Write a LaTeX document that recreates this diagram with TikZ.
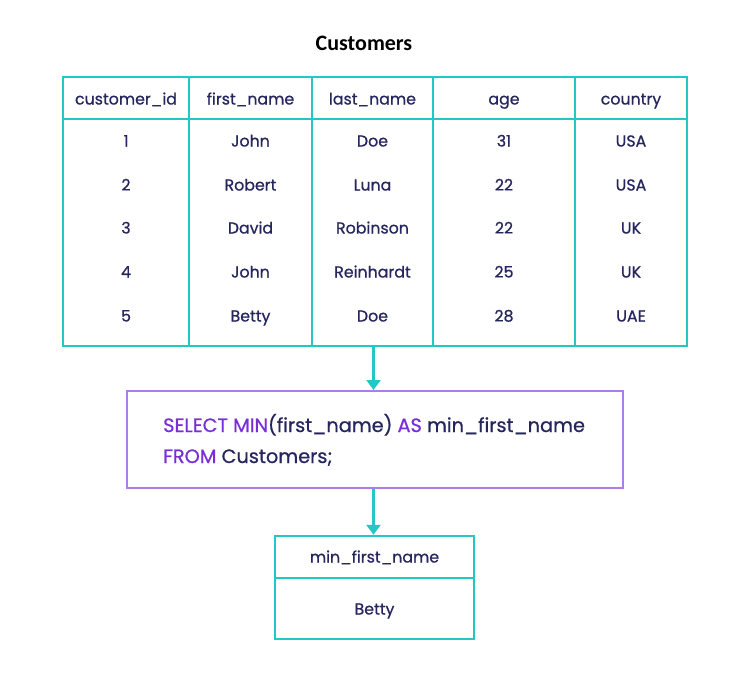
\documentclass[tikz,border=0pt]{standalone}
\usepackage{fontspec}
\setmainfont{Poppins}
\newfontfamily\med{Poppins}[FakeBold=0.7]
\newfontfamily\titlefont{Carlito}
\usetikzlibrary{arrows.meta}
\definecolor{teal1}{HTML}{22C7C7}
\definecolor{purp}{HTML}{B07CE6}
\definecolor{kw}{HTML}{7A2FD6}
\definecolor{ink}{HTML}{25265E}
\tikzset{
  cell/.style={font=\med\fontsize{15.8}{18}\selectfont, text=ink, anchor=center, inner sep=0pt, text height=11pt, text depth=0pt},
  frame/.style={draw=teal1, line width=2.4pt, inner sep=0pt},
  grid/.style={draw=teal1, line width=2.4pt},
  flow/.style={draw=teal1, line width=2.6pt, -{Triangle[width=14pt,length=10pt]}},
  sqltext/.style={anchor=base west, inner sep=0pt, font=\med\fontsize{19.3}{24}\selectfont, text=ink},
}
\begin{document}
\begin{tikzpicture}[x=1pt,y=-1pt]
\useasboundingbox (0,0) rectangle (750,677);
\fill[white] (0,0) rectangle (750,677);
% title
\node[font=\titlefont\bfseries\fontsize{22}{26}\selectfont, text=black] (title) at (364,43) {Customers};
% table
\node[frame, minimum width=624pt, minimum height=269pt] (tbl) at (375,211.5) {};
\draw[grid] (63,119) -- (687,119);
\foreach \x in {189,312,433,575} \draw[grid] (\x,77) -- (\x,346);
% header
\node[cell] (h1) at (126,99) {customer\_id};
\node[cell] (h2) at (250.5,99) {first\_name};
\node[cell] (h3) at (372.5,99) {last\_name};
\node[cell] (h4) at (504,99) {age};
\node[cell] (h5) at (631,99) {country};
% rows
\foreach \y/\a/\b/\c/\d/\e [count=\i] in {141/1/John/Doe/31/USA,185/2/Robert/Luna/22/USA,228/3/David/Robinson/22/UK,272/4/John/Reinhardt/25/UK,316/5/Betty/Doe/28/UAE}{
  \node[cell] (r\i a) at (126,\y) {\a};
  \node[cell] (r\i b) at (250.5,\y) {\b};
  \node[cell] (r\i c) at (372.5,\y) {\c};
  \node[cell] (r\i d) at (504,\y) {\d};
  \node[cell] (r\i e) at (631,\y) {\e};
}
% SQL box
\node[draw=purp, line width=2pt, minimum width=496pt, minimum height=97pt, inner sep=0pt] (sql) at (375,439.5) {};
\node[sqltext] (l1) at (163,432)
  {\textcolor{kw}{SELECT MIN}(first\_name) \textcolor{kw}{AS} min\_first\_name};
\node[sqltext] (l2) at (163,463)
  {\textcolor{kw}{FROM} Customers;};
% result
\node[frame, minimum width=199pt, minimum height=103pt] (res) at (374.5,587.5) {};
\draw[grid] (275,578) -- (474,578);
\node[cell] (rh) at (374.5,557) {min\_first\_name};
\node[cell] (rv) at (374.5,609) {Betty};
% arrows
\draw[flow] (tbl.south -| 373.5,0) -- (sql.north -| 373.5,0);
\draw[flow] (sql.south -| 373.5,0) -- (res.north -| 373.5,0);
\end{tikzpicture}
\end{document}
